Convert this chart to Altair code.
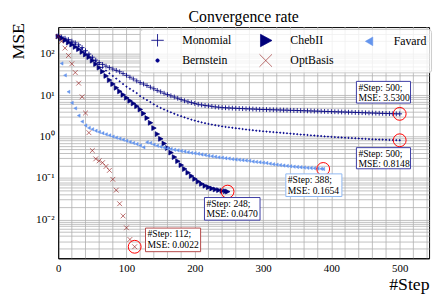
import altair as alt
import pandas as pd

# ---------------- data ----------------
# legend is filled column by column (2 rows): Monomial/Bernstein, ChebII/OptBasis, Favard
legend_order = ["Monomial", "Bernstein", "ChebII", "OptBasis", "Favard"]
draw_order = ["Monomial", "Bernstein", "ChebII", "Favard", "OptBasis"]

monomial_steps = list(range(0, 501, 5))
monomial_mse = [270, 252, 235, 218, 200, 182, 163, 140, 118, 98,
                82, 70, 61, 55, 50, 46, 42.5, 39.5, 36.5, 33,
                30, 27, 24.5, 22, 20, 18.5, 17, 15.5, 14.2, 13,
                12, 11.1, 10.3, 9.6, 9.0, 8.4, 7.8, 7.3, 6.9, 6.6,
                6.3, 6.0, 5.8, 5.6, 5.5, 5.35, 5.2, 5.1, 5.0, 4.95,
                4.9, 4.85, 4.8, 4.76, 4.72, 4.68, 4.65, 4.61, 4.57, 4.53,
                4.5, 4.48, 4.45, 4.43, 4.4, 4.38, 4.35, 4.33, 4.3, 4.28,
                4.25, 4.22, 4.2, 4.17, 4.15, 4.12, 4.1, 4.07, 4.05, 4.02,
                4.0, 3.97, 3.95, 3.92, 3.9, 3.87, 3.85, 3.82, 3.8, 3.77,
                3.75, 3.72, 3.7, 3.67, 3.65, 3.62, 3.6, 3.58, 3.56, 3.54,
                3.53]

bernstein_steps = list(range(0, 501, 5))
bernstein_mse = [265, 245, 225, 205, 185, 168, 150, 130, 110, 93,
                 78, 66, 55, 46, 39, 33.5, 29, 25, 21.5, 18.5,
                 16, 14.2, 12.6, 11.2, 9.5, 8.5, 7.6, 6.8, 6.0, 5.4,
                 4.9, 4.5, 4.15, 3.85, 3.55, 3.3, 3.1, 2.9, 2.72, 2.56,
                 2.43, 2.31, 2.2, 2.1, 2.02, 1.95, 1.88, 1.82, 1.76, 1.71,
                 1.67, 1.63, 1.59, 1.56, 1.52, 1.48, 1.45, 1.42, 1.39, 1.37,
                 1.34, 1.32, 1.3, 1.28, 1.26, 1.24, 1.22, 1.2, 1.18, 1.16,
                 1.14, 1.12, 1.11, 1.09, 1.07, 1.06, 1.04, 1.03, 1.01, 1.0,
                 0.985, 0.97, 0.96, 0.95, 0.94, 0.93, 0.92, 0.91, 0.9, 0.89,
                 0.88, 0.87, 0.86, 0.855, 0.85, 0.845, 0.838, 0.83, 0.825, 0.82,
                 0.8148]

chebii_steps = list(range(0, 246, 5)) + [248]
chebii_mse = [260, 235, 210, 185, 165, 145, 128, 110, 95, 82,
              68, 56, 46, 37, 29, 23, 18.5, 15, 12.3, 10.2,
              8.6, 7.3, 6.3, 5.4, 4.5, 3.6, 2.8, 2.15, 1.6, 1.15,
              0.88, 0.68, 0.53, 0.41, 0.32, 0.255, 0.205, 0.165, 0.135, 0.112,
              0.095, 0.082, 0.072, 0.065, 0.06, 0.056, 0.053, 0.051, 0.049, 0.048,
              0.047]

favard_steps = list(range(5, 386, 5)) + [388]
favard_mse = [58, 30, 12, 6.5, 4.8, 3.2, 2.3, 1.85, 1.62, 1.5,
              1.38, 1.29, 1.21, 1.13, 1.07, 1.0, 0.94, 0.89, 0.84, 0.79,
              0.74, 0.7, 0.66, 0.61, 0.55, 0.73, 0.7, 0.64, 0.6, 0.57,
              0.54, 0.52, 0.5, 0.48, 0.465, 0.45, 0.435, 0.42, 0.405, 0.395,
              0.385, 0.37, 0.36, 0.345, 0.335, 0.325, 0.315, 0.31, 0.3, 0.295,
              0.285, 0.28, 0.275, 0.27, 0.265, 0.26, 0.25, 0.245, 0.24, 0.235,
              0.23, 0.222, 0.215, 0.21, 0.205, 0.2, 0.196, 0.192, 0.188, 0.185,
              0.182, 0.179, 0.176, 0.174, 0.172, 0.17, 0.167, 0.1654]

optbasis_steps = [0, 5, 10, 15, 20, 25, 30, 35, 40, 45, 50, 55, 60, 65,
                  70, 75, 80, 85, 90, 95, 100, 105, 112]
optbasis_mse = [260, 200, 136, 90, 57, 35, 19.4, 9.1, 3.7, 1.24, 0.46, 0.29,
                0.26, 0.235, 0.19, 0.153, 0.093, 0.051, 0.024, 0.0122,
                0.0063, 0.0033, 0.0022]

ann_series = ["Monomial", "Bernstein", "Favard", "ChebII", "OptBasis"]
ann_steps = [500, 500, 388, 248, 112]
ann_mse = [3.5300, 0.8148, 0.1654, 0.0470, 0.0022]

x_tick_labels = [0, 100, 200, 300, 400, 500]
x_minor_grid = [v for v in range(0, 541, 20) if v % 100 != 0]
y_tick_labels = {100: "10²", 10: "10¹", 1: "10⁰", 0.1: "10⁻¹", 0.01: "10⁻²"}

# ---------------- styles ----------------
colors = {"Monomial": "#0a0a85", "Bernstein": "#00008b", "ChebII": "#00007a",
          "Favard": "#6495ed", "OptBasis": "#8e1010"}
shapes = {
    "Monomial": "M-1,0L1,0M0,-1L0,1",
    "Bernstein": "M-0.27,0A0.27,0.27,0,1,0,0.27,0A0.27,0.27,0,1,0,-0.27,0Z",
    "ChebII": "M-0.85,-1L1,0L-0.85,1Z",
    "Favard": "M0.6,-0.7L-0.6,0L0.6,0.7Z",
    "OptBasis": "M-1,-1L1,1M-1,1L1,-1",
}
stroke_w = {"Monomial": 0.9, "Bernstein": 0.5, "ChebII": 0.5, "Favard": 0.5, "OptBasis": 1.7}
box_color = {"Monomial": "#3b3ba3", "Bernstein": "#3b3ba3", "Favard": "#8fb8f2",
             "ChebII": "#3b3ba3", "OptBasis": "#b54848"}
# box offsets in pixels relative to the end point: left, right, top, bottom
box_off = {"Monomial": (-44, 11, -33, -11), "Bernstein": (-44, 11, 7.5, 29),
           "Favard": (-38, 19, 5, 28), "ChebII": (-23.5, 33, 6, 29),
           "OptBasis": (11, 67, -19, 5)}
GRID = "#b0b0b0"
SERIF = "Liberation Serif"

# ---------------- build table ----------------
series_data = {
    "Monomial": (monomial_steps, monomial_mse),
    "Bernstein": (bernstein_steps, bernstein_mse),
    "ChebII": (chebii_steps, chebii_mse),
    "Favard": (favard_steps, favard_mse),
    "OptBasis": (optbasis_steps, optbasis_mse),
}
rows = []
for name in draw_order:
    st, vals = series_data[name]
    for s, v in zip(st, vals):
        rows.append({"series": name, "step": s, "mse": v})
df = pd.DataFrame(rows)

x_dom = [0, 543]
y_dom = [0.00116, 437]

y_grid_vals = []
for e in range(-3, 3):
    for m in range(1, 10):
        v = m * 10 ** e
        if y_dom[0] <= v <= y_dom[1]:
            y_grid_vals.append(v)

y_label_expr = " : ".join(
    f"datum.value == {k} ? '{lab}'" for k, lab in y_tick_labels.items()) + " : ''"

x_enc = alt.X("step:Q", scale=alt.Scale(domain=x_dom, nice=False, zero=False),
              axis=alt.Axis(values=x_tick_labels, format="d", grid=True,
                            gridColor=GRID, gridWidth=0.8, ticks=False,
                            domainColor="black", labelFont=SERIF, labelFontSize=11,
                            labelColor="black", labelPadding=4, labelFlush=False,
                            labelOverlap=False,
                            title="#Step", titleFont=SERIF, titleFontSize=18,
                            titleFontWeight="normal", titleColor="black",
                            titleAnchor="end", titleY=32, titleBaseline="alphabetic"))
y_enc = alt.Y("mse:Q", scale=alt.Scale(type="log", domain=y_dom, nice=False, zero=False),
              axis=alt.Axis(values=y_grid_vals, labelExpr=y_label_expr, grid=True,
                            gridColor=GRID, gridWidth=0.8, ticks=False,
                            domainColor="black", labelFont=SERIF, labelFontSize=11.5,
                            labelColor="black", labelPadding=4, labelOverlap=False,
                            title="MSE", titleFont=SERIF, titleFontSize=18,
                            titleFontWeight="normal", titleColor="black",
                            titleX=-40, titleY=14, titleAlign="center",
                            titleBaseline="middle", titleAngle=-90))

col_scale = alt.Scale(domain=legend_order, range=[colors[s] for s in legend_order])
legend = alt.Legend(title=None, orient="none", legendX=83, legendY=2, columns=3,
                    symbolSize=160, symbolStrokeWidth=1.4, symbolOffset=7,
                    labelFont=SERIF, labelFontSize=12, labelColor="black",
                    labelOffset=18, columnPadding=21, rowPadding=4, padding=4,
                    fillColor="rgba(255,255,255,0.8)", strokeColor="#cccccc",
                    cornerRadius=3, symbolOpacity=1, labelBaseline="middle")

minor = alt.Chart(pd.DataFrame({"step": x_minor_grid})).mark_rule(
    color=GRID, strokeWidth=0.8).encode(x=alt.X("step:Q"))

points = alt.Chart(df).mark_point(filled=True, size=24, opacity=1).encode(
    x=x_enc, y=y_enc,
    color=alt.Color("series:N", scale=col_scale, legend=legend),
    stroke=alt.Stroke("series:N", scale=col_scale, legend=legend),
    shape=alt.Shape("series:N", scale=alt.Scale(domain=legend_order,
                                                range=[shapes[s] for s in legend_order]),
                    legend=legend),
    strokeWidth=alt.StrokeWidth("series:N", scale=alt.Scale(
        domain=legend_order, range=[stroke_w[s] for s in legend_order]), legend=None),
)

layers = [minor, points]
for name, s, m in zip(ann_series, ann_steps, ann_mse):
    d = pd.DataFrame({"step": [s], "mse": [m],
                      "label": [f"#Step: {s};\n\u00a0MSE: {m:.4f}"]})
    l, r, t, b = box_off[name]
    circ = alt.Chart(d).mark_point(shape="circle", size=170, filled=False,
                                   stroke="#ff0000", strokeWidth=1, opacity=1).encode(
        x=alt.X("step:Q"), y=alt.Y("mse:Q"))
    box = alt.Chart(d).mark_rect(fill="white", stroke=box_color[name], strokeWidth=1,
                                 xOffset=l, x2Offset=r, yOffset=t, y2Offset=b).encode(
        x=alt.X("step:Q"), x2="step:Q", y=alt.Y("mse:Q"), y2="mse:Q")
    txt = alt.Chart(d).mark_text(align="left", baseline="top", dx=l + 2, dy=t + 1.5,
                                 font=SERIF, fontSize=9.8, lineHeight=10.5,
                                 lineBreak="\n", color="black").encode(
        x=alt.X("step:Q"), y=alt.Y("mse:Q"), text="label:N")
    layers += [circ, box, txt]

chart = alt.layer(*layers).properties(
    width=377, height=235,
    title=alt.TitleParams("Convergence rate", font=SERIF, fontSize=16,
                          fontWeight="normal", anchor="middle", offset=1, dy=3.5,
                          frame="group", color="black"),
    autosize=alt.AutoSizeParams(type="none"),
    padding={"left": 51, "top": 17, "right": 5, "bottom": 40},
).configure_view(stroke="black", strokeWidth=1)

chart.save("out.html", embed_options={"renderer": "svg", "actions": False})
